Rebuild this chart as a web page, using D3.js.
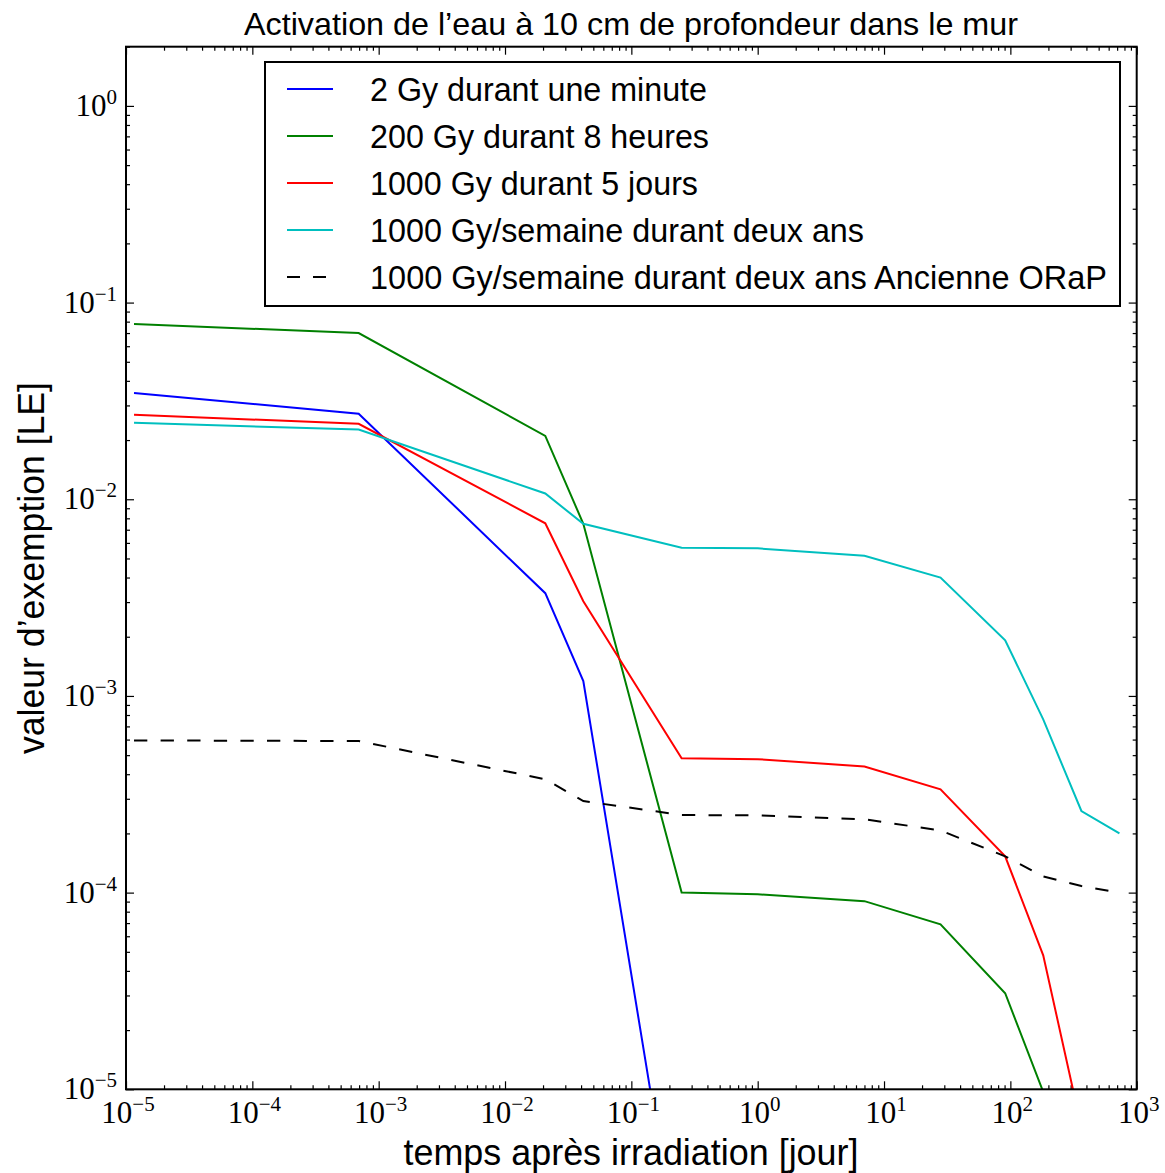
<!DOCTYPE html>
<html><head><meta charset="utf-8">
<script src="https://cdn.jsdelivr.net/npm/d3@7"></script>
<style>body{margin:0;background:#fff}</style>
</head><body><svg id="c" width="1165" height="1173"></svg>
<script>
// ---- data ----
const timesDays = [1/86400, 1/1440, 1/48, 1/24, 0.25, 1, 7, 28, 91, 182, 365, 730];
const seriesNames = [
  "2 Gy durant une minute",
  "200 Gy durant 8 heures",
  "1000 Gy durant 5 jours",
  "1000 Gy/semaine durant deux ans",
  "1000 Gy/semaine durant deux ans Ancienne ORaP"
];
const seriesColors = ["#0000ff", "#008000", "#ff0000", "#00bfbf", "#000000"];
const blueValues  = [3.47e-2, 2.72e-2, 3.33e-3, 1.19e-3, 1.05e-6];
const greenValues = [7.78e-2, 7.0e-2, 2.1e-2, 7.5e-3, 1.0e-4, 9.8e-5, 9.05e-5, 6.9e-5, 3.08e-5, 9.7e-6];
const redValues   = [2.69e-2, 2.42e-2, 7.55e-3, 3.03e-3, 4.82e-4, 4.77e-4, 4.38e-4, 3.35e-4, 1.53e-4, 4.8e-5, 6.4e-6];
const cyanValues  = [2.45e-2, 2.26e-2, 1.07e-2, 7.5e-3, 5.67e-3, 5.63e-3, 5.16e-3, 4.0e-3, 1.92e-3, 7.6e-4, 2.6e-4, 2.0e-4];
const blackValues = [5.94e-4, 5.9e-4, 3.77e-4, 2.92e-4, 2.48e-4, 2.47e-4, 2.36e-4, 2.07e-4, 1.53e-4, 1.21e-4, 1.08e-4, 1.0e-4];
const xTickExponents = [-5, -4, -3, -2, -1, 0, 1, 2, 3];
const yTickExponents = [-5, -4, -3, -2, -1, 0];
const titleText = "Activation de l’eau à 10 cm de profondeur dans le mur";
const xLabelText = "temps après irradiation [jour]";
const yLabelText = "valeur d’exemption [LE]";

const allValues = [blueValues, greenValues, redValues, cyanValues, blackValues];

// ---- layout ----
const L = 126, R = 1136.7, T = 46.7, B = 1089.3;
const svg = d3.select("#c");
const x = d3.scaleLog().domain([1e-5, 1e3]).range([L, R]);
const y = d3.scaleLog().domain([1e-5, 2]).range([B, T]);

const sansFont = "'Liberation Sans', Arial, Helvetica, sans-serif";
const serifFont = "'Liberation Serif', 'DejaVu Serif', serif";

function fit(sel, w) {
  sel.attr("textLength", w).attr("lengthAdjust", "spacingAndGlyphs");
  return sel;
}

// clip
svg.append("defs").append("clipPath").attr("id", "clip")
  .append("rect").attr("x", L).attr("y", T).attr("width", R - L).attr("height", B - T);

// ticks
const xMajor = xTickExponents.map(e => Math.pow(10, e));
const xMinor = [];
for (let e = -5; e < 3; e++) for (let m = 2; m <= 9; m++) xMinor.push(m * Math.pow(10, e));
const yMajor = yTickExponents.map(e => Math.pow(10, e));
const yMinor = [];
for (let e = -5; e <= 0; e++) for (let m = 2; m <= 9; m++) { const v = m * Math.pow(10, e); if (v <= 2) yMinor.push(v); }

function tickAxis(axisFn, scale, vals, size, transform) {
  const g = svg.append("g").attr("transform", transform)
    .call(axisFn(scale).tickValues(vals).tickSize(size).tickSizeOuter(0).tickFormat(""));
  g.select(".domain").remove();
  g.selectAll(".tick line").attr("stroke", "#000").attr("stroke-width", 1.2);
  return g;
}
tickAxis(d3.axisBottom, x, xMajor, -8, `translate(0,${B})`);
tickAxis(d3.axisBottom, x, xMinor, -4, `translate(0,${B})`);
tickAxis(d3.axisTop, x, xMajor, -8, `translate(0,${T})`);
tickAxis(d3.axisTop, x, xMinor, -4, `translate(0,${T})`);
tickAxis(d3.axisLeft, y, yMajor, -8, `translate(${L},0)`);
tickAxis(d3.axisLeft, y, yMinor, -4, `translate(${L},0)`);
tickAxis(d3.axisRight, y, yMajor, -8, `translate(${R},0)`);
tickAxis(d3.axisRight, y, yMinor, -4, `translate(${R},0)`);

// tick labels
function powLabel(g, e) {
  g.append("tspan").text("10");
  g.append("tspan").attr("dy", -12).attr("font-size", 21).text(e < 0 ? "−" + (-e) : String(e));
}
xTickExponents.forEach(e => {
  const t = svg.append("text").attr("x", x(Math.pow(10, e)) + 2).attr("y", B + 34)
    .attr("text-anchor", "middle").attr("font-family", serifFont).attr("font-size", 31).attr("fill", "#000");
  powLabel(t, e);
});
yTickExponents.forEach(e => {
  const t = svg.append("text").attr("x", L - 9).attr("y", y(Math.pow(10, e)) + 10)
    .attr("text-anchor", "end").attr("font-family", serifFont).attr("font-size", 31).attr("fill", "#000");
  powLabel(t, e);
});

// lines
const line = d3.line().x(d => x(d[0])).y(d => y(d[1]));
const plot = svg.append("g").attr("clip-path", "url(#clip)");
allValues.forEach((vals, i) => {
  const pts = vals.map((v, j) => [timesDays[j], v]);
  const p = plot.append("path").datum(pts).attr("d", line)
    .attr("fill", "none").attr("stroke", seriesColors[i]).attr("stroke-width", 2)
    .attr("stroke-linejoin", "miter");
  if (i === 4) p.attr("stroke-dasharray", "13.3,13.3");
});

// frame
svg.append("rect").attr("x", L).attr("y", T).attr("width", R - L).attr("height", B - T)
  .attr("fill", "none").attr("stroke", "#000").attr("stroke-width", 2);

// legend
const lg = svg.append("g");
lg.append("rect").attr("x", 265).attr("y", 62).attr("width", 855).attr("height", 244)
  .attr("fill", "#fff").attr("stroke", "#000").attr("stroke-width", 2);
const legendWidths = [337, 339, 328, 494, 737];
seriesNames.forEach((name, i) => {
  const cy = 89 + i * 47;
  const l = lg.append("line").attr("x1", 287).attr("x2", 333).attr("y1", cy).attr("y2", cy)
    .attr("stroke", seriesColors[i]).attr("stroke-width", 2);
  if (i === 4) l.attr("stroke-dasharray", "13,13");
  const t = lg.append("text").attr("x", 370).attr("y", cy + 12)
    .attr("font-family", sansFont).attr("font-size", 33).attr("fill", "#000").text(name);
  fit(t, legendWidths[i]);
});

// title and axis labels
fit(svg.append("text").attr("x", 631).attr("y", 35).attr("text-anchor", "middle")
  .attr("font-family", sansFont).attr("font-size", 32).attr("fill", "#000").text(titleText), 774);
fit(svg.append("text").attr("x", 631).attr("y", 1165).attr("text-anchor", "middle")
  .attr("font-family", sansFont).attr("font-size", 36).attr("fill", "#000").text(xLabelText), 455);
fit(svg.append("text").attr("transform", `translate(44,${(T + B) / 2}) rotate(-90)`).attr("text-anchor", "middle")
  .attr("font-family", sansFont).attr("font-size", 36).attr("fill", "#000").text(yLabelText), 372);
</script>
</body></html>
